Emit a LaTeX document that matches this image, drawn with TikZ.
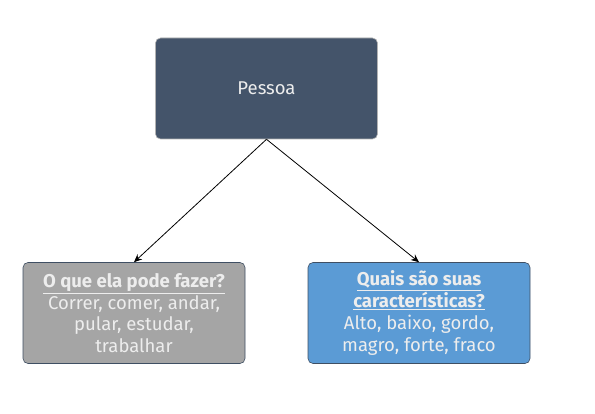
\documentclass[tikz,border=0pt]{standalone}
\usepackage{fontspec}
\setmainfont{Fira Sans}
\usetikzlibrary{arrows.meta}
\definecolor{topfill}{HTML}{44546A}
\definecolor{greyfill}{HTML}{A5A5A5}
\definecolor{bluefill}{HTML}{5B9BD5}
\definecolor{boxedge}{HTML}{3F4F63}
\definecolor{txt}{HTML}{EDEDED}
\begin{document}
\begin{tikzpicture}[x=1pt,y=-1pt,
  box/.style={rounded corners=5pt, minimum width=222pt, minimum height=101pt, draw=boxedge, line width=0.6pt, text=txt, align=center, inner sep=0pt, font=\fontsize{18.5}{21.8}\selectfont},
  conn/.style={-{Stealth[length=8pt,width=7pt]}, line width=0.8pt}]
\useasboundingbox (0,0) rectangle (595,414);
\node[box, fill=topfill, draw=gray!60] (p) at (266.5,88.5) {Pessoa};
\node[box, fill=greyfill] (l) at (134,313) {\textbf{\underline{O que ela pode fazer?}}\\Correr, comer, andar,\\pular, estudar,\\trabalhar};
\node[box, fill=bluefill] (r) at (419,313) {\textbf{\underline{Quais são suas}}\\\textbf{\underline{características?}}\\Alto, baixo, gordo,\\magro, forte, fraco};
\draw[conn] (p.south) -- (l.north);
\draw[conn] (p.south) -- (r.north);
\end{tikzpicture}
\end{document}
